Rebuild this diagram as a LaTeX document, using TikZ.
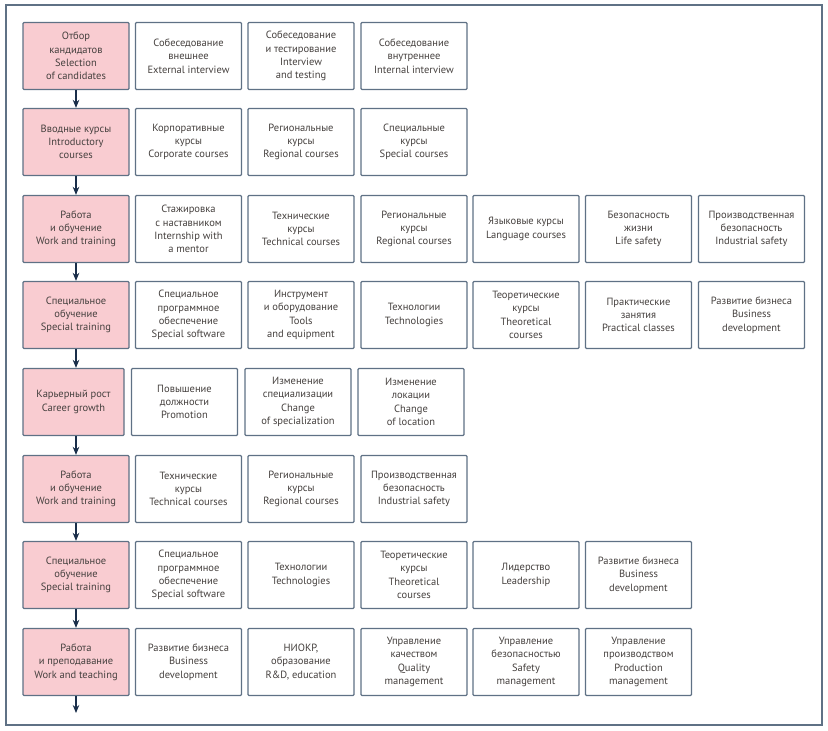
\documentclass[tikz,border=0pt]{standalone}
\usepackage{fontspec}
\setmainfont{PT Sans}
\usepackage{tikz}
\usetikzlibrary{arrows.meta,positioning}
\definecolor{stageColor}{HTML}{F9CCD1}
\definecolor{frameColor}{HTML}{5F7185}
\definecolor{arrowColor}{HTML}{1A2E4A}
\definecolor{textColor}{HTML}{45403E}

\begin{document}
\begin{tikzpicture}[
    x=1pt, y=-1pt,
    >={Stealth[length=8pt,width=6.5pt]},
    stage/.style={rectangle, draw=frameColor, fill=stageColor, line width=1.3pt, minimum width=106pt, minimum height=67pt, inner sep=1pt, align=center, font=\fontsize{10.5}{13.3}\selectfont, text=textColor, rounded corners=1pt},
    item/.style={rectangle, draw=frameColor, fill=white, line width=1.3pt, minimum width=106pt, minimum height=67pt, inner sep=1pt, align=center, font=\fontsize{10.5}{13.3}\selectfont, text=textColor, rounded corners=1pt},
    flow/.style={->, draw=arrowColor, line width=1.2pt},
  ]
  \useasboundingbox (0,0) rectangle (828,731);
  \draw[frameColor, line width=1.3pt] (6,5) rectangle (822,725);

  % Stages
  \node[stage] (sel)    at (76, 56)  {Отбор\\кандидатов\\Selection\\of candidates};
  \node[stage] (intro)  at (76, 142) {Вводные курсы\\Introductory\\courses};
  \node[stage] (work)   at (76, 229) {Работа\\и обучение\\Work and training};
  \node[stage] (spec)   at (76, 315) {Специальное\\обучение\\Special training};
  \node[stage, minimum width=101pt] (career) at (73.5, 402) {Карьерный рост\\Career growth};
  \node[stage] (worktwo) at (76, 489) {Работа\\и обучение\\Work and training};
  \node[stage] (spectwo) at (76, 575) {Специальное\\обучение\\Special training};
  \node[stage] (teach)  at (76, 662) {Работа\\и преподавание\\Work and teaching};
  \coordinate (out) at (76, 713);

  % Selection
  \node[item] (sel1) at (188.5, 56) {Собеседование\\внешнее\\External interview};
  \node[item] (sel2) at (301, 56)   {Собеседование\\и тестирование\\Interview\\and testing};
  \node[item] (sel3) at (414, 56)   {Собеседование\\внутреннее\\Internal interview};

  % Introductory courses
  \node[item] (intro1) at (188.5, 142) {Корпоративные\\курсы\\Corporate courses};
  \node[item] (intro2) at (301, 142)   {Региональные\\курсы\\Regional courses};
  \node[item] (intro3) at (414, 142)   {Специальные\\курсы\\Special courses};

  % Work and training
  \node[item] (work1) at (188.5, 229) {Стажировка\\с наставником\\Internship with\\a mentor};
  \node[item] (work2) at (301, 229)   {Технические\\курсы\\Technical courses};
  \node[item] (work3) at (414, 229)   {Региональные\\курсы\\Regional courses};
  \node[item] (work4) at (526, 229)   {Языковые курсы\\Language courses};
  \node[item] (work5) at (638.5, 229) {Безопасность\\жизни\\Life safety};
  \node[item] (work6) at (751.5, 229) {Производственная\\безопасность\\Industrial safety};

  % Special training
  \node[item] (spec1) at (188.5, 315) {Специальное\\программное\\обеспечение\\Special software};
  \node[item] (spec2) at (301, 315)   {Инструмент\\и оборудование\\Tools\\and equipment};
  \node[item] (spec3) at (414, 315)   {Технологии\\Technologies};
  \node[item] (spec4) at (526, 315)   {Теоретические\\курсы\\Theoretical\\courses};
  \node[item] (spec5) at (638.5, 315) {Практические\\занятия\\Practical classes};
  \node[item] (spec6) at (751.5, 315) {Развитие бизнеса\\Business\\development};

  % Career growth
  \node[item] (career1) at (184.5, 402) {Повышение\\должности\\Promotion};
  \node[item] (career2) at (298, 402)   {Изменение\\специализации\\Change\\of specialization};
  \node[item] (career3) at (411, 402)   {Изменение\\локации\\Change\\of location};

  % Work and training (2)
  \node[item] (worktwo1) at (188.5, 489) {Технические\\курсы\\Technical courses};
  \node[item] (worktwo2) at (301, 489)   {Региональные\\курсы\\Regional courses};
  \node[item] (worktwo3) at (414, 489)   {Производственная\\безопасность\\Industrial safety};

  % Special training (2)
  \node[item] (spectwo1) at (188.5, 575) {Специальное\\программное\\обеспечение\\Special software};
  \node[item] (spectwo2) at (301, 575)   {Технологии\\Technologies};
  \node[item] (spectwo3) at (414, 575)   {Теоретические\\курсы\\Theoretical\\courses};
  \node[item] (spectwo4) at (526, 575)   {Лидерство\\Leadership};
  \node[item] (spectwo5) at (638.5, 575) {Развитие бизнеса\\Business\\development};

  % Work and teaching
  \node[item] (teach1) at (188.5, 662) {Развитие бизнеса\\Business\\development};
  \node[item] (teach2) at (301, 662)   {НИОКР,\\образование\\R\&D, education};
  \node[item] (teach3) at (414, 662)   {Управление\\качеством\\Quality\\management};
  \node[item] (teach4) at (526, 662)   {Управление\\безопасностью\\Safety\\management};
  \node[item] (teach5) at (638.5, 662) {Управление\\производством\\Production\\management};

  % Flow
  \draw[flow] (sel) -- (intro);
  \draw[flow] (intro) -- (work);
  \draw[flow] (work) -- (spec);
  \draw[flow] (spec) -- (spec |- career.north);
  \draw[flow] (spec |- career.south) -- (worktwo);
  \draw[flow] (worktwo) -- (spectwo);
  \draw[flow] (spectwo) -- (teach);
  \draw[flow] (teach) -- (out);

\end{tikzpicture}
\end{document}
